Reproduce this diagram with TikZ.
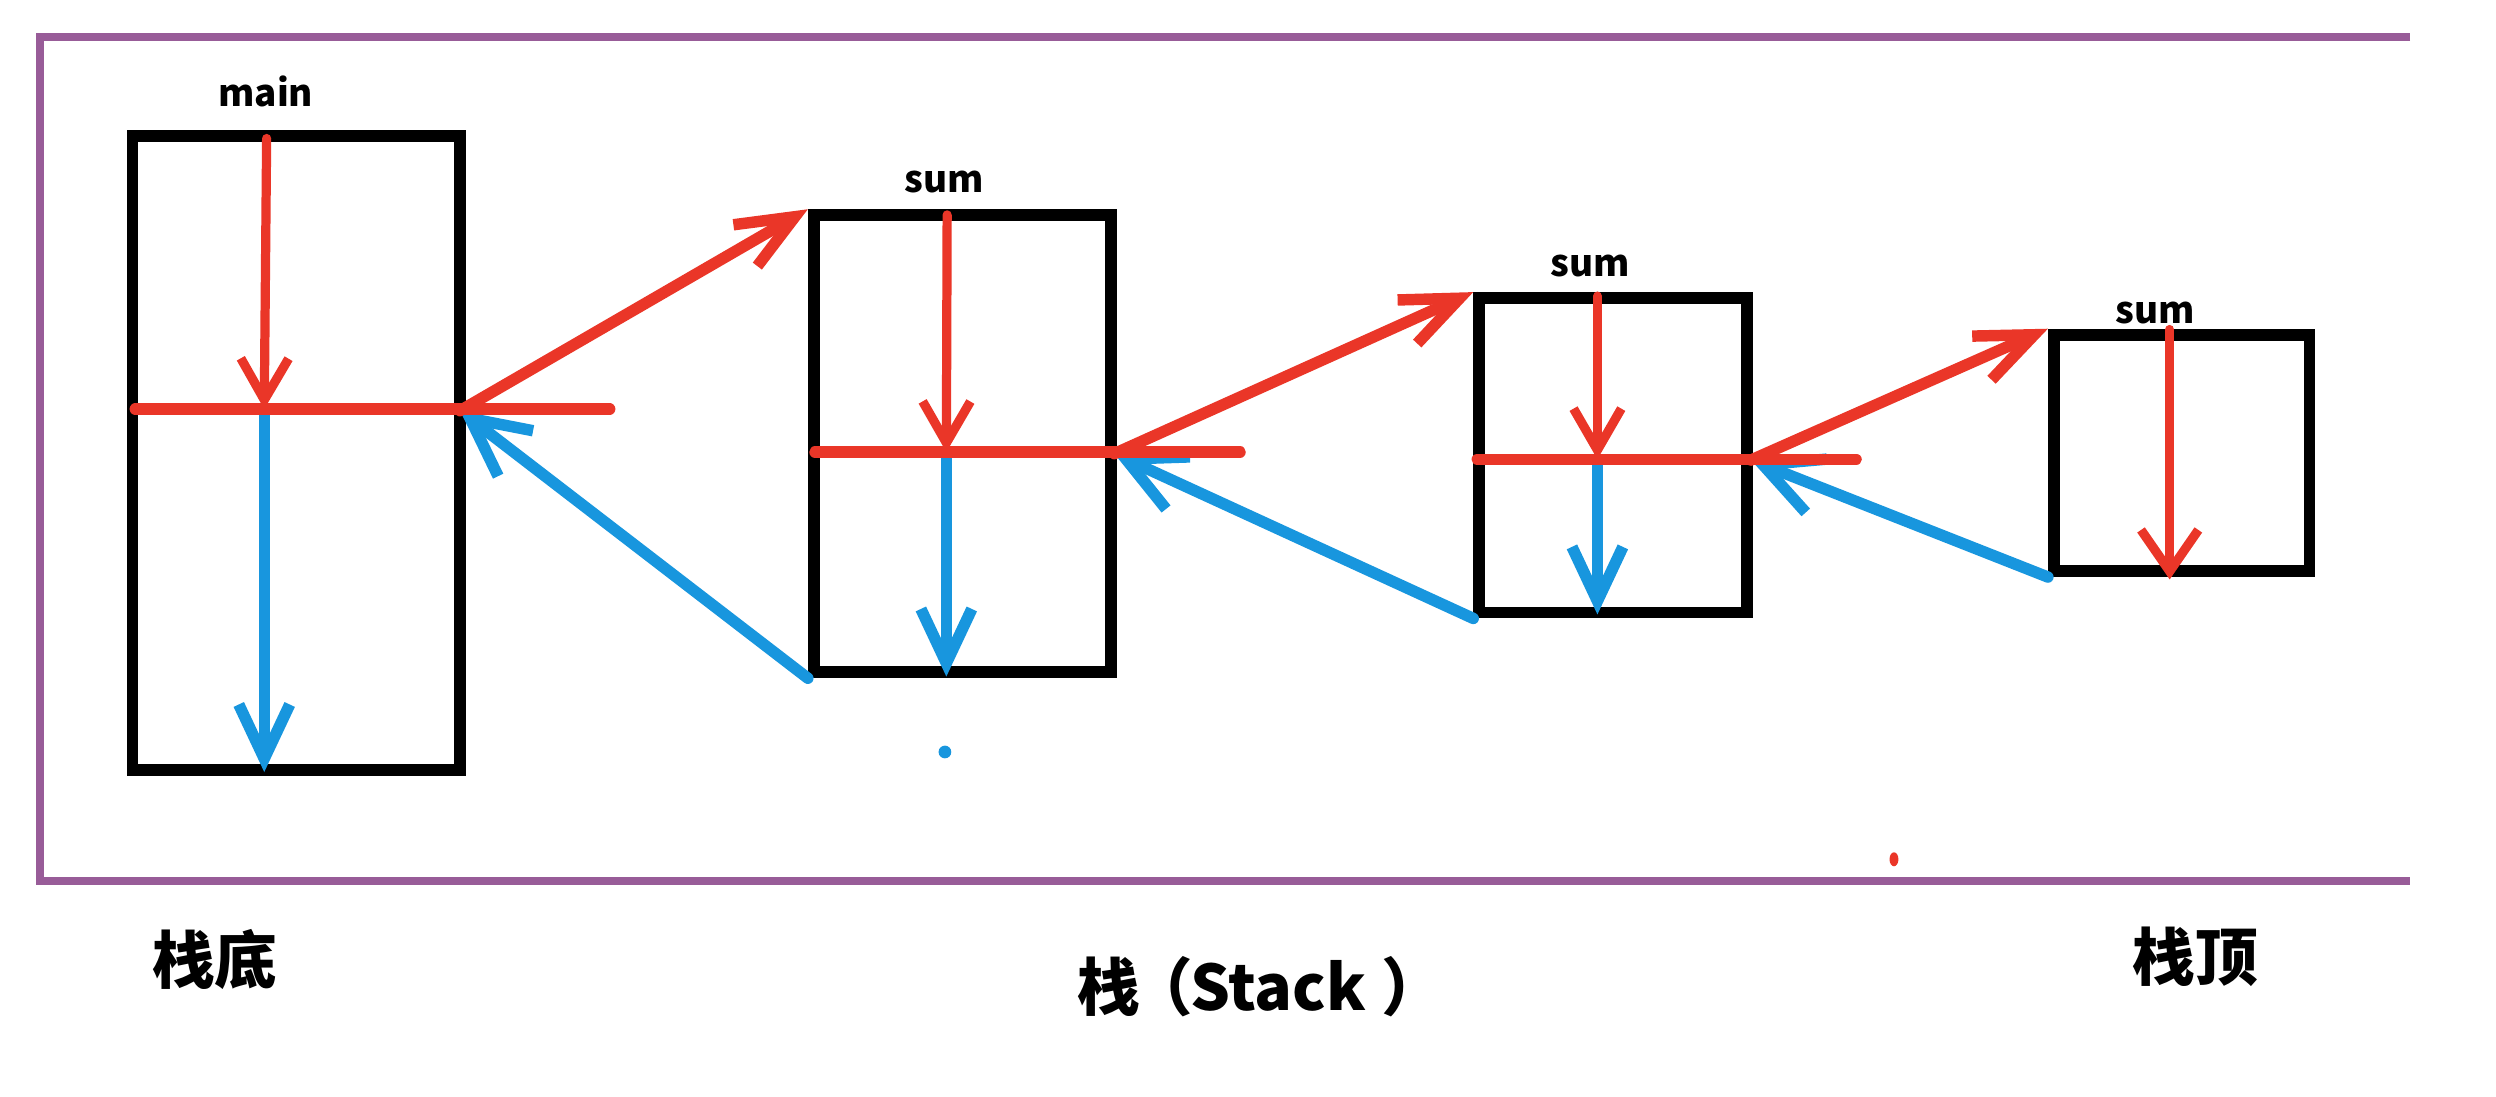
\documentclass[tikz,border=0pt]{standalone}
\usepackage{fontspec}
\usepackage{tikz}
\usetikzlibrary{arrows.meta,calc}
\newfontfamily\cjk{Noto Sans CJK SC}
\definecolor{framecol}{RGB}{152,92,152}
\definecolor{callred}{RGB}{234,54,40}
\definecolor{retblue}{RGB}{24,150,222}
\tikzset{
  stackbox/.style={draw, line width=1.85mm, inner sep=0pt},
  framelbl/.style={font=\cjk\bfseries\fontsize{16.5}{18}\selectfont, inner sep=0pt, anchor=base},
  endlbl/.style={font=\cjk\bfseries\fontsize{28}{32}\selectfont, inner sep=0pt},
  callline/.style={draw=callred, line width=1.8mm, line cap=round},
  callarrow/.style={callline, -{Straight Barb[length=9mm,width=7.5mm]}},
  callthin/.style={draw=callred, line width=1.45mm, line cap=round, -{Straight Barb[length=6.5mm,width=7.5mm]}},
  retarrow/.style={draw=retblue, line width=1.8mm, line cap=round, -{Straight Barb[length=8.5mm,width=8mm]}}
}

\begin{document}
\begin{tikzpicture}[x=0.25mm,y=-0.25mm]
  \useasboundingbox (0,0) rectangle (1568,689);
  % outer frame
  \draw[framecol, line width=1.25mm] (1514,23) -- (25,23) -- (25,553.5) -- (1514,553.5);

  % stack frames
  \node[stackbox, minimum width=51.4mm, minimum height=99.65mm] (main) at (186,284.5) {};
  \node[stackbox, minimum width=46.65mm, minimum height=71.8mm] (sum1) at (604.5,278.75) {};
  \node[stackbox, minimum width=42.05mm, minimum height=49.4mm] (sum2) at (1013.3,286) {};
  \node[stackbox, minimum width=40.15mm, minimum height=37.15mm] (sum3) at (1370.5,284.5) {};

  \node[framelbl] (mainlbl) at (167,67) {main};
  \node[framelbl] (sum1lbl) at (593,121) {sum};
  \node[framelbl] (sum2lbl) at (999,174) {sum};
  \node[framelbl] (sum3lbl) at (1354,203) {sum};

  % split points
  \coordinate (mainT) at (167.5,87);
  \coordinate (mainC) at (166,257);
  \coordinate (mainB) at (166,485);
  \coordinate (mainL) at (85,257);
  \coordinate (mainR) at (289,258);
  \coordinate (mainE) at (383,257);
  \coordinate (oneT) at (595,135);
  \coordinate (oneC) at (594.5,284);
  \coordinate (oneB) at (594.5,425);
  \coordinate (oneL) at (512,284);
  \coordinate (oneR) at (700,285);
  \coordinate (oneE) at (779,284);
  \coordinate (twoT) at (1003.5,186);
  \coordinate (twoC) at (1003.5,288.5);
  \coordinate (twoB) at (1003.5,386);
  \coordinate (twoL) at (928,288.5);
  \coordinate (twoR) at (1100,289);
  \coordinate (twoE) at (1166,288.5);
  \coordinate (threeT) at (1363,207);
  \coordinate (threeB) at (1363,364);

  % returns
  \draw[retarrow] (mainC) -- (mainB);
  \draw[retarrow] (oneC) -- (oneB);
  \draw[retarrow] (twoC) -- (twoB);
  \draw[retarrow, -{Straight Barb[length=9mm,width=9mm]}] (sum1.south west) -- (mainR);
  \draw[retarrow, -{Straight Barb[length=9mm,width=9mm]}] (sum2.south west) -- (oneR);
  \draw[retarrow, -{Straight Barb[length=9mm,width=9mm]}] (sum3.south west) -- (twoR);

  % calls
  \draw[callline] (mainL) -- (mainE);
  \draw[callline] (oneL) -- (oneE);
  \draw[callline] (twoL) -- (twoE);
  \draw[callthin] (mainT) -- (mainC);
  \draw[callthin] (oneT) -- (oneC);
  \draw[callthin] (twoT) -- (twoC);
  \draw[callthin, -{Straight Barb[length=6.5mm,width=9mm]}] (threeT) -- (threeB);
  \draw[callarrow] (mainR) -- (sum1.north west);
  \draw[callarrow] (oneR) -- (sum2.north west);
  \draw[callarrow] (twoR) -- (sum3.north west);

  \fill[retblue] (593.6,472.4) circle (1mm);
  \fill[callred] (1189.8,539.8) ellipse (0.7mm and 1.1mm);

  \node[endlbl] (bottom) at (135,603) {栈底};
  \node[endlbl] (stack) at (792,620) {栈\kern-0.15em（\kern-0.05em Stack\kern0.25em）};
  \node[endlbl] (top) at (1379,601) {栈顶};
\end{tikzpicture}
\end{document}
